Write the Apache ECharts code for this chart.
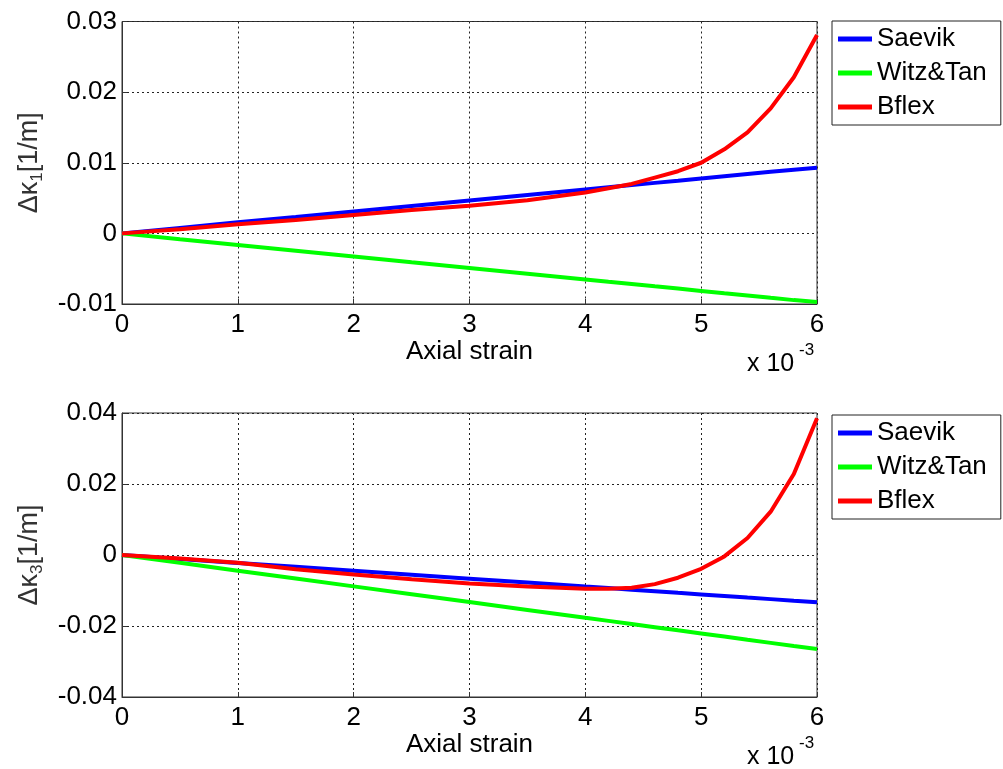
<!DOCTYPE html>
<html>
<head>
<meta charset="utf-8">
<style>html,body{margin:0;padding:0;background:#fff;}#c{width:1003px;height:769px;}</style>
<script src="https://cdn.jsdelivr.net/npm/echarts@6/dist/echarts.min.js"></script>
</head>
<body>
<div id="c"></div>
<script>
// Axial strain (x 10^-3)
const strain = [0, 0.5, 1, 1.5, 2, 2.5, 3, 3.5, 4, 4.2, 4.4, 4.6, 4.8, 5, 5.2, 5.4, 5.6, 5.8, 6];
const seriesNames = ['Saevik', 'Witz&Tan', 'Bflex'];
// Top: Δκ1 [1/m]
const k1Saevik = [0, 0.00078, 0.00156, 0.00233, 0.00311, 0.00389, 0.00467, 0.00544, 0.00622, 0.00653, 0.00684, 0.00715, 0.00746, 0.00778, 0.00809, 0.0084, 0.00871, 0.00902, 0.0093];
const k1Witz = [0, -0.00082, -0.00163, -0.00245, -0.00326, -0.00408, -0.00489, -0.00571, -0.00652, -0.00685, -0.00717, -0.0075, -0.00782, -0.00815, -0.00848, -0.0088, -0.00913, -0.00945, -0.0097];
const k1Bflex = [0, 0.0006, 0.00128, 0.0019, 0.0026, 0.0033, 0.0039, 0.0047, 0.0058, 0.0064, 0.0070, 0.0079, 0.0088, 0.0100, 0.0119, 0.0143, 0.0177, 0.0221, 0.0281];
// Bottom: Δκ3 [1/m]
const k3Saevik = [0, -0.00111, -0.00222, -0.00333, -0.00444, -0.00555, -0.00666, -0.00777, -0.00888, -0.00932, -0.00977, -0.01021, -0.01066, -0.0111, -0.01154, -0.01199, -0.01243, -0.01288, -0.0133];
const k3Witz = [0, -0.00221, -0.00442, -0.00663, -0.00884, -0.01105, -0.01326, -0.01547, -0.01768, -0.01856, -0.01945, -0.02033, -0.02122, -0.0221, -0.02298, -0.02387, -0.02475, -0.02564, -0.0265];
const k3Bflex = [0, -0.0010, -0.0022, -0.0040, -0.0055, -0.0068, -0.0080, -0.0089, -0.0095, -0.0095, -0.0092, -0.0082, -0.0064, -0.0039, -0.0004, 0.0048, 0.0122, 0.0228, 0.0385];
const xTicks = {min: 0, max: 6, interval: 1};
const yTop = {min: -0.01, max: 0.03, interval: 0.01};
const yBot = {min: -0.04, max: 0.04, interval: 0.02};

const FONT = 'Liberation Sans';
const colors = ['#0000ff', '#00ff00', '#ff0000'];
const pair = (ys) => strain.map((x, i) => [x, ys[i]]);

const gridLine = {show: true, lineStyle: {color: '#222', type: [2, 3], width: 1}};
function xAxisOpt(gi) {
  return {
    type: 'value', gridIndex: gi, min: xTicks.min, max: xTicks.max, interval: xTicks.interval,
    name: 'Axial strain', nameLocation: 'middle', nameGap: 34,
    nameTextStyle: {fontFamily: FONT, fontSize: 26, color: '#000'},
    axisLine: {show: true, onZero: false, lineStyle: {color: '#333', width: 1}},
    axisTick: {show: true, inside: true, length: 5, lineStyle: {color: '#333'}},
    axisLabel: {fontFamily: FONT, fontSize: 26, color: '#000', margin: 8},
    splitLine: gridLine
  };
}
function yAxisOpt(gi, r, sub) {
  return {
    type: 'value', gridIndex: gi, min: r.min, max: r.max, interval: r.interval,
    name: '{a|Δκ}{s|' + sub + '}{a|[1/m]}', nameLocation: 'middle', nameGap: 76, nameRotate: 90,
    nameTextStyle: {
      color: '#333',
      rich: {
        a: {fontFamily: FONT, fontSize: 27, color: '#333', lineHeight: 30, verticalAlign: 'top', padding: [0, 0, 4, 0]},
        s: {fontFamily: FONT, fontSize: 17, color: '#333', lineHeight: 16, verticalAlign: 'bottom'}
      }
    },
    axisLine: {show: true, lineStyle: {color: '#333', width: 1}},
    axisTick: {show: true, inside: true, length: 5, lineStyle: {color: '#333'}},
    axisLabel: {fontFamily: FONT, fontSize: 26, color: '#000', margin: 5},
    splitLine: gridLine
  };
}
function legendOpt(top) {
  return {
    data: seriesNames, orient: 'vertical', left: 832, top: top,
    backgroundColor: '#fff', borderColor: '#222', borderWidth: 1,
    padding: [5, 14, 5, 6], itemGap: 8, itemWidth: 34, itemHeight: 5, icon: 'rect',
    textStyle: {fontFamily: FONT, fontSize: 26, color: '#000', lineHeight: 26},
    selectedMode: false
  };
}
function lineSeries(name, gi, ys, ci) {
  return {
    name: name, type: 'line', xAxisIndex: gi, yAxisIndex: gi, data: pair(ys),
    showSymbol: false, symbol: 'none', smooth: false, animation: false,
    lineStyle: {color: colors[ci], width: 4}, itemStyle: {color: colors[ci]}
  };
}
function expTitles(topMain, topSup) {
  return [
    {text: 'x 10', left: 747, top: topMain, padding: 0, textStyle: {fontFamily: FONT, fontSize: 25, fontWeight: 'normal', color: '#000'}},
    {text: '-3', left: 799, top: topSup, padding: 0, textStyle: {fontFamily: FONT, fontSize: 17, fontWeight: 'normal', color: '#000'}}
  ];
}

const chart = echarts.init(document.getElementById('c'), null, {renderer: 'canvas'});
chart.setOption({
  backgroundColor: '#fff',
  animation: false,
  title: expTitles(352, 342).concat(expTitles(745, 735)),
  grid: [
    {left: 122, top: 21.5, width: 695, height: 282.5, show: true, borderColor: '#333', borderWidth: 1, backgroundColor: 'transparent'},
    {left: 122, top: 413, width: 695, height: 284, show: true, borderColor: '#333', borderWidth: 1, backgroundColor: 'transparent'}
  ],
  legend: [legendOpt(21), legendOpt(415)],
  xAxis: [xAxisOpt(0), xAxisOpt(1)],
  yAxis: [yAxisOpt(0, yTop, '1'), yAxisOpt(1, yBot, '3')],
  series: [
    lineSeries('Saevik', 0, k1Saevik, 0),
    lineSeries('Witz&Tan', 0, k1Witz, 1),
    lineSeries('Bflex', 0, k1Bflex, 2),
    lineSeries('Saevik', 1, k3Saevik, 0),
    lineSeries('Witz&Tan', 1, k3Witz, 1),
    lineSeries('Bflex', 1, k3Bflex, 2)
  ]
});
</script>
</body>
</html>
